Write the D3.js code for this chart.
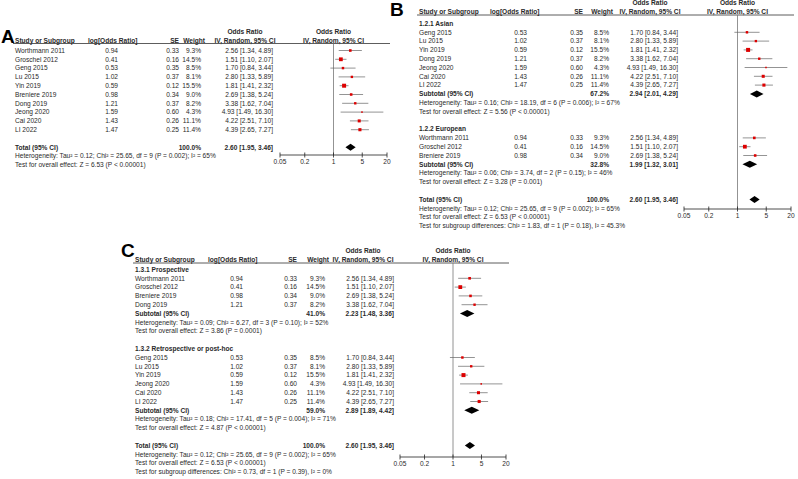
<!DOCTYPE html>
<html>
<head>
<meta charset="utf-8">
<script src="https://cdn.jsdelivr.net/npm/d3@7"></script>
<style>
body { margin: 0; background: #fff; }
svg text { font-family: "Liberation Sans", Arial, sans-serif; font-size: 6.6px; fill: #2a2a2a; }
svg text.b { font-weight: bold; }
svg text.letter { font-size: 19px; font-weight: bold; fill: #000; }
</style>
</head>
<body>
<svg id="chart" width="798" height="479"></svg>
<script>
// study level values
const studyNames = ["Worthmann 2011", "Groschel 2012", "Geng 2015", "Lu 2015", "Yin 2019",
    "Breniere 2019", "Dong 2019", "Jeong 2020", "Cai 2020", "LI 2022"];
const logOR = [0.94, 0.41, 0.53, 1.02, 0.59, 0.98, 1.21, 1.59, 1.43, 1.47];
const seVals = [0.33, 0.16, 0.35, 0.37, 0.12, 0.34, 0.37, 0.60, 0.26, 0.25];
const weights = [9.3, 14.5, 8.5, 8.1, 15.5, 9.0, 8.2, 4.3, 11.1, 11.4];
const orVals = [2.56, 1.51, 1.70, 2.80, 1.81, 2.69, 3.38, 4.93, 4.22, 4.39];
const ciLow = [1.34, 1.10, 0.84, 1.33, 1.41, 1.38, 1.62, 1.49, 2.51, 2.65];
const ciHigh = [4.89, 2.07, 3.44, 5.89, 2.32, 5.24, 7.04, 16.30, 7.10, 7.27];

const tickValues = [0.05, 0.2, 1, 5, 20];
const tickLabels = ["0.05", "0.2", "1", "5", "20"];

// overall
const totalWeight = 100.0;
const totalOr = 2.60, totalLo = 1.95, totalHi = 3.46;
const totalHet = "Heterogeneity: Tau² = 0.12; Chi² = 25.65, df = 9 (P = 0.002); I² = 65%";
const totalTest = "Test for overall effect: Z = 6.53 (P < 0.00001)";

// panel B subgroups
const groupsB = ["1.2.1 Asian", "1.2.2 European"];
const membersB = [
    ["Geng 2015", "Lu 2015", "Yin 2019", "Dong 2019", "Jeong 2020", "Cai 2020", "LI 2022"],
    ["Worthmann 2011", "Groschel 2012", "Breniere 2019"]
];
const subWeightB = [67.2, 32.8];
const subOrB = [2.94, 1.99];
const subLoB = [2.01, 1.32];
const subHiB = [4.29, 3.01];
const subHetB = ["Heterogeneity: Tau² = 0.16; Chi² = 18.19, df = 6 (P = 0.006); I² = 67%",
    "Heterogeneity: Tau² = 0.06; Chi² = 3.74, df = 2 (P = 0.15); I² = 46%"];
const subTestB = ["Test for overall effect: Z = 5.56 (P < 0.00001)",
    "Test for overall effect: Z = 3.28 (P = 0.001)"];
const diffB = "Test for subgroup differences: Chi² = 1.83, df = 1 (P = 0.18), I² = 45.3%";

// panel C subgroups
const groupsC = ["1.3.1 Prospective", "1.3.2 Retrospective or post-hoc"];
const membersC = [
    ["Worthmann 2011", "Groschel 2012", "Breniere 2019", "Dong 2019"],
    ["Geng 2015", "Lu 2015", "Yin 2019", "Jeong 2020", "Cai 2020", "LI 2022"]
];
const subWeightC = [41.0, 59.0];
const subOrC = [2.23, 2.89];
const subLoC = [1.48, 1.89];
const subHiC = [3.36, 4.42];
const subHetC = ["Heterogeneity: Tau² = 0.09; Chi² = 6.27, df = 3 (P = 0.10); I² = 52%",
    "Heterogeneity: Tau² = 0.18; Chi² = 17.41, df = 5 (P = 0.004); I² = 71%"];
const subTestC = ["Test for overall effect: Z = 3.86 (P = 0.0001)",
    "Test for overall effect: Z = 4.87 (P < 0.00001)"];
const diffC = "Test for subgroup differences: Chi² = 0.73, df = 1 (P = 0.39), I² = 0%";

const rowStep = 8.8;
const fmtCI = (o, l, h) => o.toFixed(2) + " [" + l.toFixed(2) + ", " + h.toFixed(2) + "]";
const fmtW = w => w.toFixed(1) + "%";

function studyRow(name) {
    return { t: "study", i: studyNames.indexOf(name) };
}

function totalRows() {
    return [{ t: "total", w: totalWeight, o: totalOr, l: totalLo, h: totalHi, label: "Total (95% CI)" },
        { t: "text", s: totalHet }, { t: "text", s: totalTest }];
}

function subgroupRows(groups, members, sw, so, sl, sh, het, test, diff) {
    let rows = [];
    groups.forEach((gname, gi) => {
        rows.push({ t: "group", s: gname });
        members[gi].forEach(n => rows.push(studyRow(n)));
        rows.push({ t: "total", w: sw[gi], o: so[gi], l: sl[gi], h: sh[gi], label: "Subtotal (95% CI)" });
        rows.push({ t: "text", s: het[gi] });
        rows.push({ t: "text", s: test[gi] });
        rows.push({ t: "blank" });
    });
    rows = rows.concat(totalRows());
    rows.push({ t: "text", s: diff });
    return rows;
}

const rowsA = studyNames.map(studyRow).concat([{ t: "blank" }], totalRows());
const rowsB = subgroupRows(groupsB, membersB, subWeightB, subOrB, subLoB, subHiB, subHetB, subTestB, diffB);
const rowsC = subgroupRows(groupsC, membersC, subWeightC, subOrC, subLoC, subHiC, subHetC, subTestC, diffC);

const panels = [
    { letter: "A", lx: 1, ly: 43, x0: 15, logHdr: 88, logR: 118, seR: 179, wR: 201, ciR: 273, ciHdr: 245,
        plot: [280, 387], lineEnd: 390, hdrY: 43.5, rowY0: 50.5, axisY: 155, rows: rowsA },
    { letter: "B", lx: 390, ly: 15.5, x0: 419, logHdr: 490, logR: 527, seR: 583, wR: 609, ciR: 678, ciHdr: 650,
        plot: [684, 791], lineEnd: 794, hdrY: 15, rowY0: 23.5, axisY: 209, rows: rowsB },
    { letter: "C", lx: 121, ly: 257, x0: 135, logHdr: 208, logR: 243, seR: 297, wR: 325, ciR: 394, ciHdr: 363,
        plot: [400, 506], lineEnd: 509, hdrY: 263, rowY0: 269.5, axisY: 457, rows: rowsC }
];

const svg = d3.select("#chart");
// square side grows with study weight
const size = d3.scaleLinear().domain([0, 15.5]).range([0.6, 4]);

function txt(g, x, y, s, anchor, bold) {
    return g.append("text")
        .attr("x", x).attr("y", y).attr("dy", "0.35em")
        .attr("text-anchor", anchor || "start")
        .attr("class", bold ? "b" : null)
        .text(s);
}

function drawPanel(p) {
    const g = svg.append("g");
    const x = d3.scaleLog().domain([0.05, 20]).range(p.plot);
    const xc = x(1);

    g.append("text").attr("class", "letter").attr("x", p.lx).attr("y", p.ly).text(p.letter);

    // header
    const hy = p.hdrY - 3.3;
    txt(g, p.x0, hy, "Study or Subgroup", "start", true);
    txt(g, p.logHdr, hy, "log[Odds Ratio]", "start", true);
    txt(g, p.seR, hy, "SE", "end", true);
    txt(g, p.wR + 4, hy, "Weight", "end", true);
    txt(g, p.ciHdr, hy - rowStep, "Odds Ratio", "middle", true);
    txt(g, p.ciHdr, hy, "IV, Random, 95% CI", "middle", true);
    txt(g, xc, hy - rowStep, "Odds Ratio", "middle", true);
    txt(g, xc, hy, "IV, Random, 95% CI", "middle", true);
    g.append("line")
        .attr("x1", p.x0 - 2).attr("x2", p.lineEnd)
        .attr("y1", p.hdrY).attr("y2", p.hdrY)
        .attr("stroke", "#333").attr("stroke-width", 0.8);

    // line of no effect
    g.append("line")
        .attr("x1", xc).attr("x2", xc)
        .attr("y1", p.hdrY).attr("y2", p.axisY)
        .attr("stroke", "#777").attr("stroke-width", 0.8);

    p.rows.forEach((r, k) => {
        const y = p.rowY0 + k * rowStep;
        if (r.t === "study") {
            const i = r.i;
            txt(g, p.x0, y, studyNames[i]);
            txt(g, p.logR, y, logOR[i].toFixed(2), "end");
            txt(g, p.seR, y, seVals[i].toFixed(2), "end");
            txt(g, p.wR, y, fmtW(weights[i]), "end");
            txt(g, p.ciR, y, fmtCI(orVals[i], ciLow[i], ciHigh[i]), "end");
            g.append("line")
                .attr("x1", x(ciLow[i])).attr("x2", x(ciHigh[i]))
                .attr("y1", y).attr("y2", y)
                .attr("stroke", "#666").attr("stroke-width", 0.7);
            const s = size(weights[i]);
            g.append("rect")
                .attr("x", x(orVals[i]) - s / 2).attr("y", y - s / 2)
                .attr("width", s).attr("height", s)
                .attr("fill", "#dd0000");
        } else if (r.t === "group") {
            txt(g, p.x0, y, r.s, "start", true);
        } else if (r.t === "text") {
            txt(g, p.x0, y, r.s);
        } else if (r.t === "total") {
            txt(g, p.x0, y, r.label, "start", true);
            txt(g, p.wR, y, fmtW(r.w), "end", true);
            txt(g, p.ciR, y, fmtCI(r.o, r.l, r.h), "end", true);
            const dh = 3.5;
            g.append("path")
                .attr("d", "M" + x(r.l) + "," + y + "L" + x(r.o) + "," + (y - dh) +
                    "L" + x(r.h) + "," + y + "L" + x(r.o) + "," + (y + dh) + "Z")
                .attr("fill", "#000");
        }
    });

    // axis
    const ax = g.append("g");
    ax.append("line")
        .attr("x1", p.plot[0]).attr("x2", p.plot[1])
        .attr("y1", p.axisY).attr("y2", p.axisY)
        .attr("stroke", "#222").attr("stroke-width", 0.8);
    tickValues.forEach((t, i) => {
        ax.append("line")
            .attr("x1", x(t)).attr("x2", x(t))
            .attr("y1", p.axisY - 2.5).attr("y2", p.axisY + 2.5)
            .attr("stroke", "#222").attr("stroke-width", 0.8);
        txt(ax, x(t), p.axisY + 7, tickLabels[i], "middle");
    });
}

panels.forEach(drawPanel);
</script>
</body>
</html>
